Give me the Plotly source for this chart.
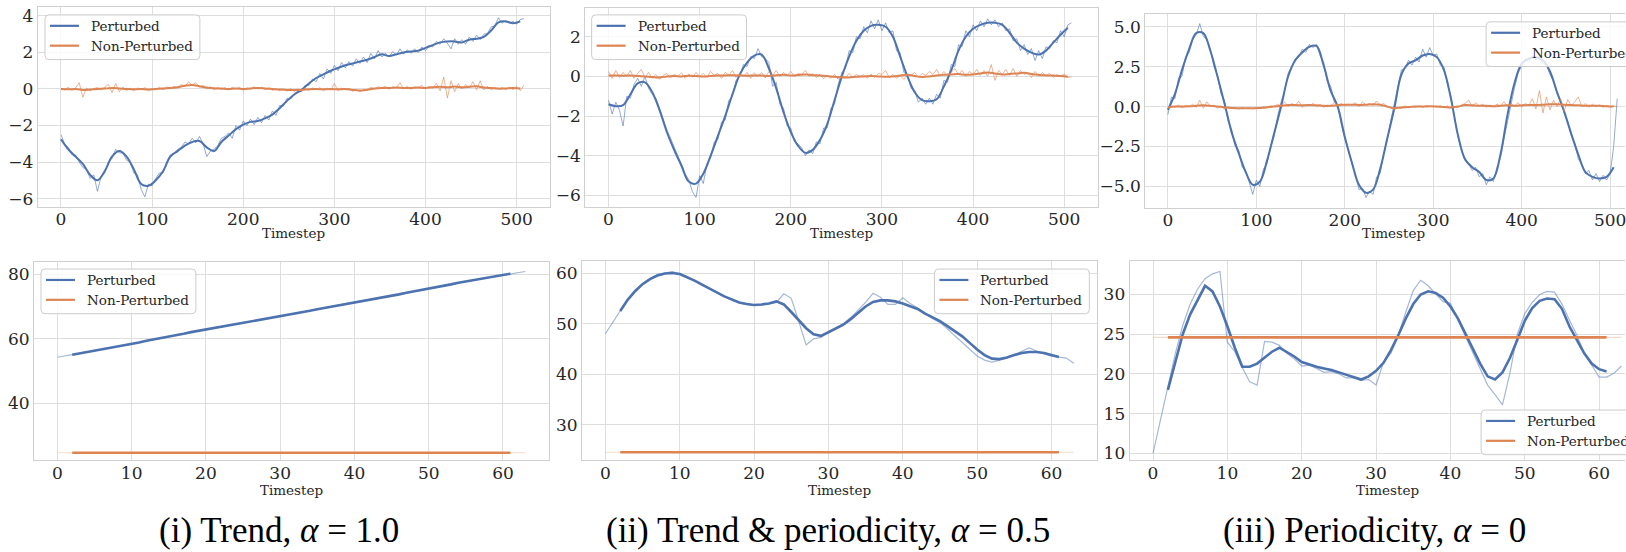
import plotly.graph_objects as go

W, H = 1626, 552

# ---------------- data ----------------
# Top row: 512 timesteps; raw values every 4 steps, smoothed every 8 steps
trend_blue_raw = [
    -2.5, -3.0, -3.2, -3.6, -3.6, -4.0, -4.3, -4.4, -4.9, -4.7, -5.6, -4.8, -4.6, -4.0, -3.8, -3.3,
    -3.5, -3.5, -3.9, -4.0, -4.6, -4.7, -5.5, -5.9, -5.2, -5.3, -4.9, -4.6, -4.6, -4.0, -3.6, -3.5,
    -3.3, -3.2, -2.9, -3.0, -2.7, -2.95, -2.6, -3.0, -3.7, -3.4, -3.3, -3.1, -2.7, -2.6, -2.4, -2.7,
    -2.0, -2.25, -1.75, -2.0, -1.65, -1.95, -1.55, -1.85, -1.45, -1.7, -1.2, -1.45, -0.9, -0.95, -0.5, -0.55,
    -0.3, -0.1, -0.15, 0.2, 0.2, 0.55, 0.4, 0.85, 0.55, 1.1, 0.85, 1.3, 1.0, 1.45, 1.15, 1.5,
    1.25, 1.65, 1.4, 1.75, 1.45, 1.95, 1.65, 2.1, 1.75, 1.95, 1.75, 2.05, 1.85, 2.2, 1.9, 2.15,
    1.95, 2.2, 2.0, 2.3, 2.1, 2.4, 2.3, 2.6, 2.45, 2.75, 2.5, 2.2, 2.75, 2.45, 2.7, 2.45,
    2.85, 2.6, 2.95, 2.7, 3.0, 3.05, 3.4, 3.45, 3.9, 3.6, 3.75, 3.6, 3.7, 3.55, 3.8, 3.85,
]
trend_blue_smooth = [
    -2.75, -3.3, -3.7, -4.1, -4.7, -5.0, -4.5, -3.7, -3.4, -3.7, -4.4, -5.2, -5.3, -5.0, -4.5, -3.7,
    -3.4, -3.1, -2.9, -2.85, -3.2, -3.4, -2.9, -2.55, -2.2, -1.95, -1.8, -1.75, -1.6, -1.4, -1.05, -0.65,
    -0.3, -0.05, 0.3, 0.6, 0.8, 1.0, 1.15, 1.3, 1.4, 1.5, 1.6, 1.75, 1.9, 1.8, 1.9, 2.0,
    2.05, 2.1, 2.25, 2.4, 2.55, 2.6, 2.6, 2.55, 2.7, 2.75, 2.85, 3.2, 3.65, 3.7, 3.6, 3.7,
]
trend_orange_raw = [
    0.05, -0.05, 0.1, -0.08, 0.05, 0.35, -0.45, 0.05, -0.1, 0.02, 0.08, -0.06, 0.1, 0.25, -0.2, 0.3,
    -0.15, 0.1, -0.08, 0.05, -0.1, 0.06, -0.05, 0.08, -0.1, 0.04, -0.04, 0.1, -0.05, 0.12, 0.02, 0.15,
    0.05, 0.25, 0.12, 0.4, 0.2, 0.35, 0.1, 0.2, 0.0, 0.12, -0.05, 0.1, -0.03, 0.08, -0.06, 0.1,
    0.0, 0.1, -0.08, 0.06, -0.02, 0.12, 0.0, 0.1, -0.05, 0.08, -0.08, 0.02, -0.1, 0.0, -0.12, 0.02,
    -0.15, 0.0, -0.1, 0.05, -0.08, 0.06, -0.05, 0.08, -0.1, 0.05, -0.06, 0.3, -0.1, 0.05, -0.05, 0.04,
    -0.12, -0.05, -0.15, -0.02, -0.1, 0.1, 0.0, 0.12, 0.05, 0.15, -0.02, 0.12, 0.05, 0.35, 0.0, 0.15,
    -0.02, 0.12, 0.05, 0.2, 0.0, 0.15, 0.05, 0.3, -0.1, 0.65, -0.5, 0.45, -0.15, 0.3, 0.0, 0.25,
    0.05, 0.4, -0.05, 0.45, -0.05, 0.15, -0.05, 0.1, 0.0, 0.08, -0.04, 0.1, -0.05, 0.15, -0.1, 0.2,
]
trend_orange_smooth = [
    0.0, -0.02, 0.0, -0.05, -0.03, 0.0, 0.02, 0.05, 0.03, 0.0, -0.02, 0.0, -0.03, 0.0, 0.02, 0.05,
    0.1, 0.18, 0.22, 0.15, 0.08, 0.04, 0.02, 0.0, 0.03, 0.0, 0.03, 0.05, 0.03, 0.0, -0.03, -0.05,
    -0.05, -0.05, -0.02, 0.0, -0.02, 0.0, -0.02, 0.0, -0.05, -0.08, -0.04, 0.02, 0.05, 0.05, 0.08, 0.05,
    0.06, 0.08, 0.06, 0.1, 0.12, 0.1, 0.13, 0.1, 0.12, 0.15, 0.08, 0.05, 0.02, 0.03, 0.05, 0.03,
]

tp_blue_raw = [
    -1.2, -1.9, -1.3, -1.7, -2.5, -1.0, -1.1, -0.4, -0.1, -0.5, 0.0, -0.6, -0.9, -1.1, -1.6, -2.2,
    -2.7, -3.1, -3.6, -4.0, -4.4, -4.9, -5.2, -5.8, -6.1, -5.0, -5.4, -4.4, -4.1, -3.3, -3.2, -2.3,
    -2.2, -1.2, -1.0, -0.2, 0.0, 0.6, 0.5, 1.0, 0.9, 1.4, 1.0, 0.9, 0.7, -0.5, -0.3, -1.4,
    -1.6, -2.5, -2.6, -3.3, -3.4, -3.6, -4.0, -3.7, -3.9, -3.3, -3.4, -2.6, -2.6, -1.6, -1.4, -0.4,
    0.2, 0.4, 1.3, 1.2, 2.0, 1.9, 2.5, 2.2, 2.8, 2.4, 2.85, 2.3, 2.7, 2.2, 2.3, 1.3,
    1.2, 0.2, 0.1, -0.6, -0.7, -1.3, -1.1, -1.4, -1.1, -1.4, -0.9, -1.1, -0.2, -0.3, 0.6, 0.5,
    1.6, 1.5, 2.3, 2.0, 2.6, 2.3, 2.8, 2.5, 2.9, 2.6, 2.85, 2.5, 2.7, 2.3, 2.4, 1.8,
    1.9, 1.3, 1.6, 1.1, 1.4, 0.8, 1.3, 0.9, 1.5, 1.4, 1.8, 1.7, 2.3, 2.0, 2.6, 2.7,
]
tp_blue_smooth = [
    -1.4, -1.5, -1.45, -0.9, -0.35, -0.3, -0.8, -1.7, -2.8, -3.7, -4.5, -5.3, -5.4, -4.9, -4.0, -3.0,
    -2.0, -0.9, 0.1, 0.7, 1.05, 1.1, 0.4, -0.6, -1.8, -2.8, -3.5, -3.85, -3.7, -3.2, -2.4, -1.2,
    0.0, 1.0, 1.8, 2.3, 2.55, 2.6, 2.5, 2.0, 1.0, 0.0, -0.8, -1.2, -1.25, -1.15, -0.5, 0.3,
    1.3, 2.0, 2.4, 2.6, 2.7, 2.7, 2.6, 2.2, 1.7, 1.4, 1.2, 1.1, 1.3, 1.7, 2.1, 2.45,
]
tp_orange_raw = [
    0.25, -0.1, 0.3, -0.05, 0.2, 0.0, 0.3, -0.1, 0.15, 0.35, -0.05, 0.2, -0.1, 0.1, -0.15, 0.05,
    0.15, -0.08, 0.1, 0.0, 0.18, -0.1, 0.12, -0.05, 0.2, 0.0, 0.15, -0.05, 0.25, 0.05, 0.15, -0.1,
    0.2, 0.05, 0.3, -0.05, 0.15, 0.0, 0.2, -0.1, 0.18, 0.0, 0.2, -0.08, 0.25, 0.05, 0.3, 0.0,
    0.2, 0.05, 0.25, 0.0, 0.15, 0.1, 0.3, 0.0, 0.15, -0.05, 0.1, -0.12, 0.05, -0.1, 0.1, -0.15,
    0.05, -0.08, 0.15, -0.05, 0.1, 0.0, 0.08, -0.1, 0.12, -0.05, 0.15, 0.1, 0.3, -0.05, 0.1, -0.1,
    0.05, -0.15, 0.1, 0.05, 0.2, -0.05, 0.15, 0.05, 0.25, 0.1, 0.35, 0.0, 0.25, 0.05, 0.2, 0.4,
    0.1, 0.3, 0.0, 0.25, 0.1, 0.35, 0.05, 0.3, 0.0, 0.6, -0.2, 0.3, 0.1, 0.35, 0.05, 0.4,
    0.0, 0.3, 0.1, 0.2, -0.05, 0.25, 0.0, 0.2, 0.05, 0.15, -0.05, 0.1, 0.0, 0.12, -0.05, -0.02,
]
tp_orange_smooth = [
    0.05, 0.05, 0.03, 0.05, 0.02, 0.0, -0.03, -0.05, 0.0, 0.02, 0.0, 0.03, 0.02, 0.0, 0.02, 0.04,
    0.05, 0.06, 0.05, 0.03, 0.05, 0.04, 0.02, 0.06, 0.08, 0.05, 0.07, 0.1, 0.06, 0.05, 0.02, -0.02,
    -0.05, -0.05, -0.02, 0.0, 0.02, 0.0, -0.02, 0.0, 0.05, 0.08, 0.02, -0.03, 0.0, 0.05, 0.08, 0.1,
    0.12, 0.08, 0.1, 0.15, 0.2, 0.15, 0.1, 0.12, 0.15, 0.18, 0.12, 0.08, 0.05, 0.05, 0.02, -0.02,
]

per_blue_raw = [
    -0.5, 0.6, 0.5, 1.8, 1.9, 3.1, 3.4, 4.2, 4.5, 5.2, 4.4, 4.2, 3.6, 2.5, 2.0, 0.8,
    0.4, -0.9, -1.4, -2.5, -2.7, -3.8, -4.0, -4.8, -5.5, -4.6, -5.0, -3.9, -3.6, -2.5, -1.9, -0.6,
    0.3, 1.0, 2.1, 2.5, 3.0, 3.1, 3.6, 3.4, 3.9, 3.7, 3.9, 3.2, 2.8, 1.6, 1.3, 0.3,
    0.1, -1.1, -2.0, -2.7, -3.6, -4.2, -5.2, -5.1, -5.7, -5.3, -5.5, -4.4, -4.2, -2.9, -2.1, -0.9,
    0.2, 1.3, 2.3, 2.4, 2.9, 2.6, 3.1, 2.8, 3.6, 3.1, 3.7, 3.2, 3.3, 2.6, 2.5, 1.4,
    0.7, -0.6, -1.9, -2.8, -3.4, -3.6, -4.0, -3.8, -4.4, -4.2, -4.9, -4.4, -4.7, -3.8, -3.2, -2.0,
    -0.9, 0.3, 1.2, 2.1, 2.6, 3.0, 2.8, 3.2, 2.9, 3.2, 2.7, 2.6, 2.0, 1.6, 0.8, 0.3,
    -0.4, -1.0, -1.8, -2.3, -3.3, -3.6, -4.2, -4.0, -4.6, -4.2, -4.7, -4.3, -4.6, -4.2, -2.5, 0.5,
]
per_blue_smooth = [
    -0.2, 0.8, 2.3, 3.6, 4.6, 4.6, 3.5, 1.9, 0.2, -1.6, -2.9, -4.1, -4.9, -4.7, -3.4, -1.7,
    0.0, 1.9, 2.9, 3.4, 3.75, 3.8, 2.6, 1.0, 0.0, -1.9, -3.5, -4.9, -5.4, -5.2, -3.9, -2.0,
    -0.1, 2.0, 2.7, 2.9, 3.2, 3.3, 3.1, 2.3, 0.5, -1.8, -3.3, -3.8, -4.1, -4.6, -4.5, -3.0,
    -0.5, 1.5, 2.7, 3.0, 3.1, 2.9, 2.2, 0.9, -0.3, -1.7, -3.0, -4.1, -4.4, -4.5, -4.4, -3.8,
]
per_orange_raw = [
    -0.1, 0.05, -0.05, 0.1, -0.08, 0.08, 0.0, 0.15, -0.05, 0.4, -0.1, 0.3, 0.0, 0.1, -0.1, 0.05,
    -0.15, 0.0, -0.1, -0.05, -0.15, -0.05, -0.12, -0.08, -0.15, -0.05, -0.1, 0.0, -0.05, 0.05, 0.0, 0.15,
    0.05, 0.3, 0.0, 0.2, 0.05, 0.35, -0.05, 0.15, 0.05, 0.2, 0.0, 0.15, -0.05, 0.1, 0.05, 0.25,
    0.1, 0.2, 0.05, 0.15, 0.1, 0.25, 0.0, 0.3, 0.1, 0.2, 0.05, 0.35, 0.1, 0.2, 0.0, -0.1,
    -0.2, -0.05, -0.1, 0.05, -0.08, 0.02, -0.05, 0.05, -0.05, 0.08, 0.0, 0.05, -0.03, 0.06, -0.05, 0.05,
    -0.1, 0.0, -0.05, 0.1, 0.2, 0.4, 0.0, 0.25, 0.05, 0.15, -0.05, 0.1, 0.0, 0.15, 0.05, 0.3,
    0.0, 0.2, 0.05, 0.25, -0.05, 0.2, 0.05, 0.5, -0.15, 1.0, -0.4, 0.6, -0.2, 0.4, 0.0, 0.5,
    -0.3, 0.45, 0.05, 0.3, 0.6, 0.0, 0.2, -0.05, 0.15, 0.0, 0.1, -0.05, 0.08, 0.0, 0.05, -0.02,
]
per_orange_smooth = [
    -0.05, 0.0, 0.0, 0.02, 0.05, 0.08, 0.05, 0.0, -0.05, -0.08, -0.1, -0.1, -0.1, -0.08, -0.05, 0.0,
    0.05, 0.1, 0.1, 0.08, 0.1, 0.08, 0.05, 0.05, 0.1, 0.12, 0.12, 0.1, 0.12, 0.15, 0.12, 0.0,
    -0.1, -0.05, -0.03, 0.0, 0.0, 0.02, 0.0, -0.02, -0.05, 0.0, 0.1, 0.08, 0.05, 0.05, 0.03, 0.05,
    0.08, 0.05, 0.08, 0.1, 0.1, 0.12, 0.15, 0.15, 0.12, 0.1, 0.08, 0.05, 0.05, 0.05, 0.02, 0.0,
]

# Bottom row: 64 timesteps; smoothed values cover timesteps 2..61
b_trend_blue_raw = [
    54.2, 54.7, 55.0, 55.4, 55.8, 56.2, 56.6, 57.0, 57.5, 57.9, 58.4, 58.8, 59.3, 59.7, 60.2, 60.6,
    61.1, 61.5, 62.0, 62.4, 62.9, 63.3, 63.7, 64.1, 64.5, 64.9, 65.3, 65.7, 66.2, 66.6, 67.0, 67.4,
    67.8, 68.2, 68.6, 69.1, 69.5, 70.0, 70.4, 70.9, 71.3, 71.7, 72.1, 72.5, 72.9, 73.3, 73.7, 74.2,
    74.6, 75.0, 75.5, 75.9, 76.4, 76.8, 77.3, 77.7, 78.2, 78.6, 79.0, 79.4, 79.8, 80.1, 80.5, 80.8,
]
b_trend_blue_smooth = [
    55.0, 55.4, 55.8, 56.2, 56.6, 57.0, 57.5, 57.9, 58.4, 58.8, 59.3, 59.7, 60.2, 60.6,
    61.1, 61.5, 62.0, 62.4, 62.9, 63.3, 63.7, 64.1, 64.5, 64.9, 65.3, 65.7, 66.2, 66.6, 67.0, 67.4,
    67.8, 68.2, 68.6, 69.1, 69.5, 70.0, 70.4, 70.9, 71.3, 71.7, 72.1, 72.5, 72.9, 73.3, 73.7, 74.2,
    74.6, 75.0, 75.5, 75.9, 76.4, 76.8, 77.3, 77.7, 78.2, 78.6, 79.0, 79.4, 79.8, 80.1,
]
b_tp_blue_raw = [
    48.0, 50.3, 52.6, 54.8, 56.6, 57.9, 58.9, 59.7, 60.0, 60.3, 59.8, 59.3, 58.5, 57.7, 56.9, 56.1,
    55.3, 54.6, 54.1, 53.8, 53.6, 53.7, 54.0, 54.2, 55.9, 55.0, 50.5, 45.8, 47.0, 47.3, 48.4, 49.2,
    50.0, 51.2, 52.6, 54.2, 56.0, 55.2, 53.8, 53.8, 55.1, 54.0, 53.1, 52.0, 51.0, 50.2, 49.0, 47.6,
    46.2, 44.9, 43.6, 42.8, 42.4, 42.8, 43.2, 43.9, 44.5, 45.2, 44.6, 44.0, 43.6, 43.4, 43.2, 42.2,
]
b_tp_blue_smooth = [
    52.5, 54.7, 56.4, 57.8, 58.8, 59.5, 59.9, 60.0, 59.8, 59.2, 58.5, 57.7, 56.9, 56.1,
    55.4, 54.8, 54.2, 53.9, 53.7, 53.8, 54.0, 54.4, 53.8, 52.3, 50.7, 49.1, 47.9, 47.6, 48.3, 49.0,
    49.8, 50.9, 52.1, 53.4, 54.3, 54.6, 54.6, 54.4, 54.0, 53.5, 52.9, 52.0, 51.3, 50.5, 49.5, 48.5,
    47.5, 46.2, 44.9, 43.8, 43.1, 43.0, 43.3, 43.8, 44.2, 44.4, 44.4, 44.2, 43.8, 43.4,
]
b_per_blue_raw = [
    10.0, 14.2, 18.0, 22.6, 26.1, 28.8, 30.7, 32.0, 32.6, 32.9, 24.0, 22.8, 20.8, 19.0, 18.6, 24.1,
    24.0, 23.6, 22.6, 21.9, 21.0, 21.1, 20.7, 20.2, 20.3, 20.0, 19.5, 19.5, 19.2, 19.3, 18.6, 21.5,
    22.6, 24.9, 27.8, 30.5, 31.8, 31.1, 30.1, 29.1, 28.9, 26.8, 24.7, 22.6, 20.7, 18.6, 17.4, 16.1,
    20.1, 25.0, 27.6, 29.0, 30.0, 30.4, 30.3, 28.8, 26.8, 24.9, 22.6, 21.1, 19.6, 19.6, 20.1, 21.0,
]
b_per_blue_smooth = [
    18.0, 21.5, 25.0, 27.5, 29.4, 31.1, 30.4, 28.5, 26.0, 23.3, 20.9, 20.9, 21.3, 22.1,
    22.8, 23.3, 22.8, 22.2, 21.5, 21.2, 20.9, 20.7, 20.5, 20.2, 19.9, 19.6, 19.3, 19.7, 20.4, 21.4,
    23.0, 24.9, 27.0, 28.8, 30.0, 30.4, 30.2, 29.6, 28.5, 27.0, 25.1, 23.2, 21.3, 19.7, 19.3, 20.2,
    22.0, 24.3, 26.7, 28.3, 29.2, 29.5, 29.4, 28.2, 26.0, 24.3, 22.6, 21.3, 20.6, 20.3,
]
b_orange_raw = [
    24.6, 24.6, 24.6, 24.6, 24.6, 24.6, 24.6, 24.6, 24.6, 24.6, 24.6, 24.6, 24.6, 24.6, 24.6, 24.6,
    24.6, 24.6, 24.6, 24.6, 24.6, 24.6, 24.6, 24.6, 24.6, 24.6, 24.6, 24.6, 24.6, 24.6, 24.6, 24.6,
    24.6, 24.6, 24.6, 24.6, 24.6, 24.6, 24.6, 24.6, 24.6, 24.6, 24.6, 24.6, 24.6, 24.6, 24.6, 24.6,
    24.6, 24.6, 24.6, 24.6, 24.6, 24.6, 24.6, 24.6, 24.6, 24.6, 24.6, 24.6, 24.6, 24.6, 24.6, 24.6,
]
b_orange_smooth = [
    24.6, 24.6, 24.6, 24.6, 24.6, 24.6, 24.6, 24.6, 24.6, 24.6, 24.6, 24.6, 24.6, 24.6,
    24.6, 24.6, 24.6, 24.6, 24.6, 24.6, 24.6, 24.6, 24.6, 24.6, 24.6, 24.6, 24.6, 24.6, 24.6, 24.6,
    24.6, 24.6, 24.6, 24.6, 24.6, 24.6, 24.6, 24.6, 24.6, 24.6, 24.6, 24.6, 24.6, 24.6, 24.6, 24.6,
    24.6, 24.6, 24.6, 24.6, 24.6, 24.6, 24.6, 24.6, 24.6, 24.6, 24.6, 24.6, 24.6, 24.6,
]

top_xticks = [0, 100, 200, 300, 400, 500]
bot_xticks = [0, 10, 20, 30, 40, 50, 60]
captions = ["(i) Trend, <i>α</i> = 1.0",
            "(ii) Trend &amp; periodicity, <i>α</i> = 0.5",
            "(iii) Periodicity, <i>α</i> = 0"]
series_names = ["Perturbed", "Non-Perturbed"]

# ---------------- styling / layout ----------------
BLUE = "#4c72b0"
ORANGE = "#dd8452"
FONT = "DejaVu Serif, serif"
CAPFONT = "Liberation Serif, Times New Roman, serif"
TXT = "#262626"

def px(p):
    return p / W

def py(p):
    return 1 - p / H

panels = [
    dict(l=37.7, r=550.3, t=6, b=207.5, xr=[-25.55, 536.55], yr=[-6.46, 4.49], yt=[-6, -4, -2, 0, 2, 4], fmt="",
         top=True, data=(trend_blue_raw, trend_blue_smooth, trend_orange_raw, trend_orange_smooth), leg=(45, 14), mirror=True),
    dict(l=585.6, r=1098.2, t=7, b=207.3, xr=[-25.55, 536.55], yr=[-6.57, 3.45], yt=[-6, -4, -2, 0, 2], fmt="",
         top=True, data=(tp_blue_raw, tp_blue_smooth, tp_orange_raw, tp_orange_smooth), leg=(592, 14), mirror=True),
    dict(l=1146, r=1626, t=13.3, b=208.3, xr=[-25.55, 516.8], yr=[-6.34, 5.79], yt=[-5, -2.5, 0, 2.5, 5], fmt=".1f",
         top=True, data=(per_blue_raw, per_blue_smooth, per_orange_raw, per_orange_smooth), leg=(1487, 21), mirror=False),
    dict(l=34, r=549, t=262.7, b=462.5, xr=[-3.15, 66.15], yr=[22.3, 83.8], yt=[40, 60, 80], fmt="",
         top=False, data=(b_trend_blue_raw, b_trend_blue_smooth, b_orange_raw, b_orange_smooth), leg=(41, 270), mirror=True),
    dict(l=582.3, r=1097.9, t=262.3, b=462.5, xr=[-3.15, 66.15], yr=[23.04, 62.3], yt=[30, 40, 50, 60], fmt="",
         top=False, data=(b_tp_blue_raw, b_tp_blue_smooth, b_orange_raw, b_orange_smooth), leg=(935, 270), mirror=True),
    dict(l=1130.3, r=1626, t=262.3, b=462.5, xr=[-3.15, 63.48], yr=[9.15, 34.17], yt=[10, 15, 20, 25, 30], fmt="",
         top=False, data=(b_per_blue_raw, b_per_blue_smooth, b_orange_raw, b_orange_smooth), leg=(1482, 412), mirror=False),
]

fig = go.Figure()
layout = dict(
    width=W, height=H, margin=dict(l=0, r=0, t=0, b=0),
    paper_bgcolor="white", plot_bgcolor="white", showlegend=False,
    font=dict(family=FONT, color=TXT),
)
shapes = []
annotations = []

def rrect(l, t, w, h, r=4):
    def P(x, y):
        return f"{px(x):.6f},{py(y):.6f}"
    return (f"M {P(l + r, t)} L {P(l + w - r, t)} Q {P(l + w, t)} {P(l + w, t + r)} "
            f"L {P(l + w, t + h - r)} Q {P(l + w, t + h)} {P(l + w - r, t + h)} "
            f"L {P(l + r, t + h)} Q {P(l, t + h)} {P(l, t + h - r)} "
            f"L {P(l, t + r)} Q {P(l, t)} {P(l + r, t)} Z")

for i, p in enumerate(panels):
    k = "" if i == 0 else str(i + 1)
    xa, ya = "x" + k, "y" + k
    braw, bsm, oraw, osm = p["data"]
    if p["top"]:
        xraw_b = [4 * j for j in range(len(braw))]
        xsm_b = [8 * j for j in range(len(bsm))]
        xraw_o = [4 * j for j in range(len(oraw))]
        xsm_o = [8 * j for j in range(len(osm))]
        thin_w, thick_w = 1.0, 2.0
        b_alpha, o_alpha = 0.6, 0.6
        xt = top_xticks
    else:
        xraw_b = list(range(len(braw)))
        xsm_b = [2 + j for j in range(len(bsm))]
        xraw_o = list(range(len(oraw)))
        xsm_o = [2 + j for j in range(len(osm))]
        thin_w, thick_w = 1.2, 2.6
        b_alpha, o_alpha = 0.5, 0.3
        xt = bot_xticks
    fig.add_trace(go.Scatter(x=xraw_b, y=braw, mode="lines", xaxis=xa, yaxis=ya, name=series_names[0],
                             line=dict(color=f"rgba(76,114,176,{b_alpha})", width=thin_w), hoverinfo="skip"))
    fig.add_trace(go.Scatter(x=xsm_b, y=bsm, mode="lines", xaxis=xa, yaxis=ya, name=series_names[0],
                             line=dict(color=BLUE, width=thick_w, shape="spline" if p["top"] else "linear")))
    fig.add_trace(go.Scatter(x=xraw_o, y=oraw, mode="lines", xaxis=xa, yaxis=ya, name=series_names[1],
                             line=dict(color=f"rgba(221,132,82,{o_alpha})", width=thin_w), hoverinfo="skip"))
    fig.add_trace(go.Scatter(x=xsm_o, y=osm, mode="lines", xaxis=xa, yaxis=ya, name=series_names[1],
                             line=dict(color=ORANGE, width=thick_w, shape="spline" if p["top"] else "linear")))

    layout["xaxis" + k] = dict(
        domain=[px(p["l"]), px(p["r"])], range=p["xr"], anchor=ya, tickvals=xt,
        showgrid=True, gridcolor="#dedede", gridwidth=1, zeroline=False,
        showline=True, linecolor="#d0d0d0", linewidth=1, mirror=True, ticks="",
        ticklabeloverflow="allow", ticklabelstandoff=-3,
        tickfont=dict(family=FONT, size=17, color=TXT),
    )
    layout["yaxis" + k] = dict(
        domain=[py(p["b"]), py(p["t"])], range=p["yr"], anchor=xa, tickvals=p["yt"],
        tickformat=p["fmt"], showgrid=True, gridcolor="#dedede", gridwidth=1, zeroline=False,
        showline=True, linecolor="#d0d0d0", linewidth=1, mirror=p["mirror"], ticks="",
        ticklabeloverflow="allow",
        tickfont=dict(family=FONT, size=17, color=TXT),
    )
    # axis label
    annotations.append(dict(
        text="Timestep", xref=xa, yref="paper",
        x=(255.5 if p["top"] else 31.5), y=py(234 if p["top"] else 493),
        xanchor="center", yanchor="middle", showarrow=False,
        font=dict(family=FONT, size=13.5, color=TXT)))
    # legend (drawn by hand so it can sit partly outside the figure like the original)
    lx, ly = p["leg"]
    shapes.append(dict(type="path", xref="paper", yref="paper", path=rrect(lx, ly, 155, 45),
                       fillcolor="rgba(255,255,255,0.8)", line=dict(color="#cccccc", width=1), layer="above"))
    for r, (nm, col) in enumerate(zip(series_names, [BLUE, ORANGE])):
        yy = ly + 11 + 20 * r
        shapes.append(dict(type="line", xref="paper", yref="paper",
                           x0=px(lx + 5), x1=px(lx + 34), y0=py(yy), y1=py(yy),
                           line=dict(color=col, width=2.2), layer="above"))
        annotations.append(dict(text=nm, xref="paper", yref="paper", x=px(lx + 44), y=py(yy),
                                xanchor="left", yanchor="middle", showarrow=False,
                                font=dict(family=FONT, size=13.5, color=TXT)))

for cx, cap in zip([279, 829, 1375], captions):
    annotations.append(dict(text=cap, xref="paper", yref="paper", x=px(cx), y=py(533),
                            xanchor="center", yanchor="middle", showarrow=False,
                            font=dict(family=CAPFONT, size=35, color="black")))

layout["shapes"] = shapes
layout["annotations"] = annotations
fig.update_layout(**layout)
fig.write_html("out.html")
